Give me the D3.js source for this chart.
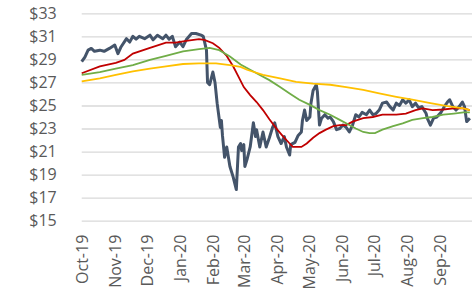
<!DOCTYPE html>
<html>
<head>
<meta charset="utf-8">
<script src="https://cdn.jsdelivr.net/npm/d3@7"></script>
<style>
  body { margin: 0; background: #fff; }
  svg { display: block; }
  .tick text { font-family: "Open Sans", sans-serif; font-size: 16px; fill: #595959; }
</style>
</head>
<body>
<div id="chart"></div>
<script>
// tick labels
const monthLabels = ['Oct-19', 'Nov-19', 'Dec-19', 'Jan-20', 'Feb-20', 'Mar-20',
  'Apr-20', 'May-20', 'Jun-20', 'Jul-20', 'Aug-20', 'Sep-20'];
const monthStarts = ['2019-10-01', '2019-11-01', '2019-12-01', '2020-01-01', '2020-02-01', '2020-03-01',
  '2020-04-01', '2020-05-01', '2020-06-01', '2020-07-01', '2020-08-01', '2020-09-01'];
const priceTicks = [15, 17, 19, 21, 23, 25, 27, 29, 31, 33];

// share price
const price = [
  ['2019-10-01', 28.8], ['2019-10-04', 29.2], ['2019-10-07', 29.8], ['2019-10-10', 29.95],
  ['2019-10-13', 29.7], ['2019-10-18', 29.8], ['2019-10-22', 29.7], ['2019-10-27', 29.95],
  ['2019-11-01', 30.25], ['2019-11-04', 29.5], ['2019-11-07', 30.1], ['2019-11-12', 30.8],
  ['2019-11-15', 30.5], ['2019-11-18', 31.0], ['2019-11-21', 30.75], ['2019-11-24', 31.0],
  ['2019-11-29', 30.8], ['2019-12-04', 31.1], ['2019-12-07', 30.7], ['2019-12-11', 31.1],
  ['2019-12-16', 30.8], ['2019-12-19', 31.1], ['2019-12-22', 30.75], ['2019-12-25', 31.0],
  ['2019-12-28', 30.1], ['2020-01-01', 30.5], ['2020-01-04', 30.1], ['2020-01-07', 30.7],
  ['2020-01-12', 31.25], ['2020-01-16', 31.25], ['2020-01-21', 31.1], ['2020-01-23', 31.0],
  ['2020-01-26', 29.8], ['2020-01-27', 27.0], ['2020-01-29', 26.8], ['2020-02-01', 27.9],
  ['2020-02-03', 27.0], ['2020-02-05', 25.2], ['2020-02-08', 23.1], ['2020-02-09', 23.7],
  ['2020-02-10', 22.4], ['2020-02-12', 20.5], ['2020-02-14', 21.4], ['2020-02-17', 19.7],
  ['2020-02-20', 18.8], ['2020-02-23', 17.7], ['2020-02-25', 21.4], ['2020-02-27', 21.7],
  ['2020-02-28', 21.1], ['2020-03-01', 21.6], ['2020-03-02', 19.7], ['2020-03-04', 20.3],
  ['2020-03-07', 21.4], ['2020-03-10', 23.5], ['2020-03-12', 22.3], ['2020-03-13', 22.9],
  ['2020-03-16', 21.4], ['2020-03-19', 22.7], ['2020-03-22', 21.4], ['2020-03-25', 22.2],
  ['2020-03-28', 23.1], ['2020-03-30', 23.5], ['2020-04-02', 22.3], ['2020-04-05', 21.7],
  ['2020-04-08', 22.3], ['2020-04-10', 21.4], ['2020-04-13', 20.7], ['2020-04-14', 21.6],
  ['2020-04-18', 21.8], ['2020-04-21', 22.4], ['2020-04-24', 22.7], ['2020-04-25', 23.7],
  ['2020-04-27', 24.6], ['2020-04-29', 23.7], ['2020-05-02', 24.0], ['2020-05-03', 25.2],
  ['2020-05-05', 26.3], ['2020-05-08', 26.8], ['2020-05-09', 26.2], ['2020-05-11', 23.3],
  ['2020-05-13', 23.9], ['2020-05-16', 24.2], ['2020-05-19', 23.9], ['2020-05-21', 24.0],
  ['2020-05-24', 23.6], ['2020-05-27', 22.9], ['2020-05-30', 23.0], ['2020-06-02', 23.3],
  ['2020-06-05', 23.1], ['2020-06-08', 22.7], ['2020-06-11', 23.3], ['2020-06-14', 24.2],
  ['2020-06-17', 24.0], ['2020-06-20', 24.4], ['2020-06-24', 24.2], ['2020-06-27', 24.6],
  ['2020-06-30', 24.2], ['2020-07-03', 24.3], ['2020-07-06', 24.6], ['2020-07-09', 25.2],
  ['2020-07-13', 25.3], ['2020-07-16', 24.9], ['2020-07-19', 24.6], ['2020-07-22', 25.2],
  ['2020-07-25', 25.0], ['2020-07-28', 25.5], ['2020-07-31', 25.2], ['2020-08-03', 25.5],
  ['2020-08-06', 24.9], ['2020-08-09', 25.2], ['2020-08-12', 24.8], ['2020-08-15', 24.9],
  ['2020-08-19', 24.3], ['2020-08-20', 23.9], ['2020-08-23', 23.3], ['2020-08-26', 23.9],
  ['2020-08-29', 24.0], ['2020-09-02', 24.4], ['2020-09-05', 24.9], ['2020-09-08', 25.3],
  ['2020-09-10', 25.5], ['2020-09-13', 24.9], ['2020-09-16', 24.6], ['2020-09-19', 24.9],
  ['2020-09-22', 25.3], ['2020-09-24', 24.9], ['2020-09-26', 23.6], ['2020-09-29', 23.9]
];

// moving averages
const avgRed = [
  ['2019-10-01', 27.8], ['2019-10-18', 28.4], ['2019-11-02', 28.7], ['2019-11-10', 28.95],
  ['2019-11-18', 29.5], ['2019-12-04', 30.0], ['2019-12-19', 30.45], ['2019-12-28', 30.45],
  ['2020-01-07', 30.6], ['2020-01-19', 30.75], ['2020-01-24', 30.7], ['2020-02-01', 30.4],
  ['2020-02-07', 30.0], ['2020-02-14', 29.3], ['2020-02-20', 28.4], ['2020-02-25', 27.5],
  ['2020-03-01', 26.6], ['2020-03-07', 25.9], ['2020-03-13', 25.3], ['2020-03-19', 24.6],
  ['2020-03-25', 23.8], ['2020-04-01', 22.95], ['2020-04-07', 22.3], ['2020-04-13', 21.7],
  ['2020-04-16', 21.4], ['2020-04-24', 21.4], ['2020-04-29', 21.7], ['2020-05-05', 22.2],
  ['2020-05-11', 22.6], ['2020-05-17', 22.9], ['2020-05-24', 23.2], ['2020-05-30', 23.3],
  ['2020-06-05', 23.3], ['2020-06-11', 23.6], ['2020-06-21', 23.9], ['2020-06-30', 24.0],
  ['2020-07-09', 24.2], ['2020-07-22', 24.2], ['2020-07-31', 24.3], ['2020-08-09', 24.6],
  ['2020-08-16', 24.75], ['2020-08-25', 24.6], ['2020-09-04', 24.65], ['2020-09-14', 24.75],
  ['2020-09-23', 24.75], ['2020-09-29', 24.6]
];
const avgGreen = [
  ['2019-10-01', 27.65], ['2019-10-18', 27.9], ['2019-11-02', 28.2], ['2019-11-18', 28.5],
  ['2019-12-04', 28.95], ['2019-12-19', 29.3], ['2020-01-04', 29.7], ['2020-01-19', 29.9],
  ['2020-01-29', 30.0], ['2020-02-07', 29.8], ['2020-02-17', 29.25], ['2020-02-27', 28.55],
  ['2020-03-07', 28.1], ['2020-03-16', 27.65], ['2020-03-25', 27.2], ['2020-04-04', 26.6],
  ['2020-04-13', 26.05], ['2020-04-22', 25.5], ['2020-05-02', 25.05], ['2020-05-11', 24.6],
  ['2020-05-21', 24.2], ['2020-05-30', 23.75], ['2020-06-08', 23.3], ['2020-06-14', 23.0],
  ['2020-06-21', 22.7], ['2020-06-27', 22.6], ['2020-07-02', 22.6], ['2020-07-09', 22.9],
  ['2020-07-19', 23.2], ['2020-07-28', 23.45], ['2020-08-06', 23.75], ['2020-08-16', 23.9],
  ['2020-08-25', 24.0], ['2020-09-04', 24.2], ['2020-09-14', 24.3], ['2020-09-23', 24.4],
  ['2020-09-29', 24.4]
];
const avgYellow = [
  ['2019-10-01', 27.1], ['2019-10-18', 27.35], ['2019-11-02', 27.65], ['2019-11-18', 27.95],
  ['2019-12-04', 28.2], ['2019-12-19', 28.4], ['2020-01-04', 28.6], ['2020-01-19', 28.65],
  ['2020-02-04', 28.65], ['2020-02-17', 28.5], ['2020-02-27', 28.35], ['2020-03-04', 28.1],
  ['2020-03-19', 27.65], ['2020-04-04', 27.35], ['2020-04-19', 27.05], ['2020-05-05', 26.9],
  ['2020-05-21', 26.8], ['2020-06-05', 26.6], ['2020-06-21', 26.35], ['2020-07-06', 26.05],
  ['2020-07-22', 25.75], ['2020-08-06', 25.5], ['2020-08-23', 25.2], ['2020-09-08', 24.95],
  ['2020-09-23', 24.75], ['2020-09-29', 24.6]
];

const width = 474;
const height = 294;
const parse = d3.timeParse('%Y-%m-%d');

const svg = d3.select('#chart').append('svg')
  .attr('width', width)
  .attr('height', height);

const x = d3.scaleTime()
  .domain([parse('2019-10-01'), parse('2020-10-01')])
  .range([81.7, 472]);
const y = d3.scaleLinear()
  .domain([15, 33])
  .range([220.7, 13.3]);

// gridlines + y labels
const yAxis = svg.append('g')
  .attr('transform', 'translate(81.7,0)')
  .call(d3.axisLeft(y)
    .tickValues(priceTicks)
    .tickSize(-(472 - 81.7))
    .tickPadding(25)
    .tickFormat(d => '$' + d));
yAxis.select('.domain').remove();
yAxis.selectAll('.tick line').attr('stroke', '#d9d9d9').attr('stroke-width', 1.3);

// x labels
const xAxis = svg.append('g')
  .attr('transform', 'translate(0,220.7)')
  .call(d3.axisBottom(x)
    .tickValues(monthStarts.map(parse))
    .tickSize(0)
    .tickFormat((d, i) => monthLabels[i]));
xAxis.select('.domain').remove();
xAxis.selectAll('.tick text')
  .attr('transform', 'rotate(-90)')
  .attr('text-anchor', 'end')
  .attr('x', -14)
  .attr('y', 0)
  .attr('dy', '0.36em');

const line = d3.line()
  .x(d => x(parse(d[0])))
  .y(d => y(d[1]));

svg.append('path').datum(price)
  .attr('fill', 'none').attr('stroke', '#44546a').attr('stroke-width', 3)
  .attr('stroke-linejoin', 'round')
  .attr('d', line);
svg.append('path').datum(avgRed)
  .attr('fill', 'none').attr('stroke', '#c00000').attr('stroke-width', 1.8)
  .attr('d', line);
svg.append('path').datum(avgGreen)
  .attr('fill', 'none').attr('stroke', '#70ad47').attr('stroke-width', 1.8)
  .attr('d', line);
svg.append('path').datum(avgYellow)
  .attr('fill', 'none').attr('stroke', '#ffc000').attr('stroke-width', 1.8)
  .attr('d', line);
</script>
</body>
</html>
